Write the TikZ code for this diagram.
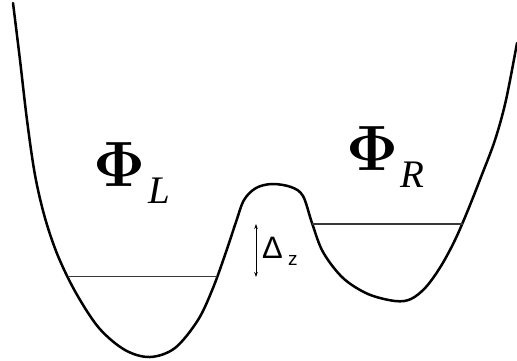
\RequirePackage{fix-cm}
\documentclass[tikz,border=0pt]{standalone}
\usepackage[no-math]{fontspec}
\setmainfont{Liberation Serif}
\newfontfamily\labsans{Liberation Sans}
\usetikzlibrary{arrows.meta}
\tikzset{
  potential/.style={line width=2.5pt, line join=round, line cap=round},
  level/.style={line width=1.5pt, draw=black!78},
  gap/.style={line width=0.8pt, {Stealth[length=5pt,width=3.5pt]}-{Stealth[length=5pt,width=3.5pt]}},
  bigphi/.style={inner sep=0pt, anchor=base west, font=\fontsize{64}{64}\selectfont},
  subidx/.style={inner sep=0pt, anchor=base west, font=\fontsize{39}{39}\selectfont\itshape},
  deltalab/.style={inner sep=0pt, anchor=base west, font=\labsans\fontsize{31}{31}\selectfont},
  zlab/.style={inner sep=0pt, anchor=base west, font=\labsans\fontsize{19}{19}\selectfont}
}
\begin{document}
\begin{tikzpicture}[x=1pt,y=-1pt]
\useasboundingbox (0,0) rectangle (517,360);
% potential curve
\draw[potential] plot[smooth, tension=0.55] coordinates {
  (13,3) (20,60) (27,120) (35,175) (45,218) (58,256) (76,293) (99,328)
  (125,350) (150,357) (175,348) (198,320) (213,288) (226,252) (236,222)
  (244,200) (256,188) (272,184) (291,187) (303,196) (312,223) (323,252)
  (343,278) (368,294) (395,301) (411,299) (426,287) (441,266) (455,240)
  (468,210) (481,177) (495,140) (506,100) (517,43)};
% energy levels
\coordinate (l1) at (68,276.5);
\coordinate (l2) at (217,276.5);
\coordinate (r1) at (312,224);
\coordinate (r2) at (463,224);
\draw[level] (l1) -- (l2);
\draw[level] (r1) -- (r2);
% splitting arrow
\coordinate (a1) at (256,224);
\coordinate (a2) at (256,277);
\draw[gap] (a1) -- (a2);
\node[deltalab] (dl) at (262,258) {Δ};
\node[zlab] (zl) at (288,265) {z};
% labels
\node[bigphi] (phiL) at (93,186) {$\mathbf{\Phi}$};
\node[subidx] (subL) at (148,203) {L};
\node[bigphi] (phiR) at (346,170) {$\mathbf{\Phi}$};
\node[subidx] (subR) at (400,187) {R};
\end{tikzpicture}
\end{document}
